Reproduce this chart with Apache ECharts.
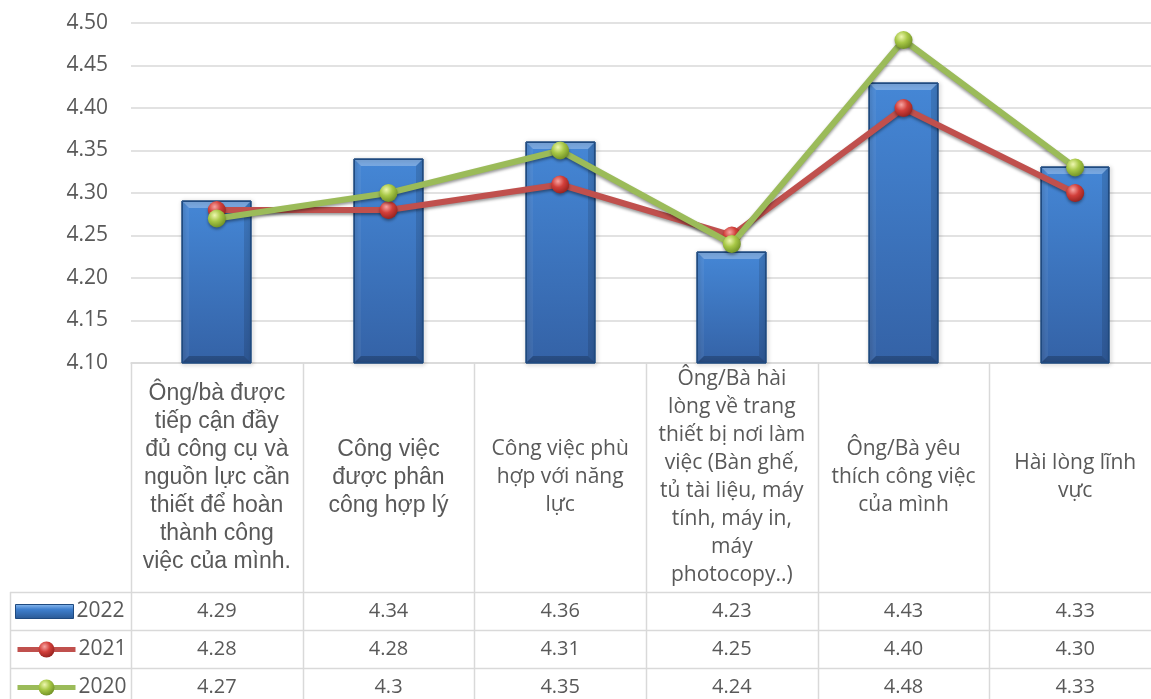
<!DOCTYPE html>
<html>
<head>
<meta charset="utf-8">
<script src="https://cdn.jsdelivr.net/npm/echarts@6/dist/echarts.min.js"></script>
<style>
  html, body { margin: 0; padding: 0; background: #ffffff; }
  #chart { width: 1151px; height: 699px; }
</style>
</head>
<body>
<div id="chart"></div>
<script>
// Survey criteria (category labels, wrapped as printed in the table header)
const categories = [
  'Ông/bà được\ntiếp cận đầy\nđủ công cụ và\nnguồn lực cần\nthiết để hoàn\nthành công\nviệc của mình.',
  'Công việc\nđược phân\ncông hợp lý',
  'Công việc phù\nhợp với năng\nlực',
  'Ông/Bà hài\nlòng về trang\nthiết bị nơi làm\nviệc (Bàn ghế,\ntủ tài liệu, máy\ntính, máy in,\nmáy\nphotocopy..)',
  'Ông/Bà yêu\nthích công việc\ncủa mình',
  'Hài lòng lĩnh\nvực'
];

// Average scores per year
const years = ['2022', '2021', '2020'];
const values2022 = [4.29, 4.34, 4.36, 4.23, 4.43, 4.33];
const values2021 = [4.28, 4.28, 4.31, 4.25, 4.40, 4.30];
const values2020 = [4.27, 4.3, 4.35, 4.24, 4.48, 4.33];

// Value axis range
const yMin = 4.10;
const yMax = 4.50;
const yStep = 0.05;

// ---- layout and style ----
const GRID_LEFT = 131, GRID_TOP = 23, GRID_H = 340, GRID_W = 1030;
const HEADER_H = 229, ROW_H = 38, TABLE_LEFT = 10;
const BORDER = '#d9d9d9';
const TEXT = '#595959';
const SANS = '"Open Sans", "Noto Sans", sans-serif';
const ARIAL = '"Liberation Sans", Arial, sans-serif';
const BAR_RATIO = 0.4;   // column width relative to the category band
const BEVEL = 7;

// first two header cells use the Arial face, the others Open Sans
const headerStyleKey = ['arial', 'arial', 'sans', 'sans', 'sans', 'sans'];

function fmt(v, raw) { return raw ? String(v) : v.toFixed(2); }
const tableRows = [
  values2022.map(v => fmt(v, false)),
  values2021.map(v => fmt(v, false)),
  values2020.map(v => fmt(v, true))
];

const chart = echarts.init(document.getElementById('chart'), null, { renderer: 'canvas' });

function sphere(light, mid, dark) {
  return {
    type: 'radial', x: 0.38, y: 0.32, r: 0.75,
    colorStops: [
      { offset: 0, color: light },
      { offset: 0.45, color: mid },
      { offset: 1, color: dark }
    ]
  };
}

const faceFill = {
  type: 'linear', x: 0, y: 0, x2: 0, y2: 1,
  colorStops: [
    { offset: 0, color: '#4587d6' },
    { offset: 1, color: '#3462a6' }
  ]
};
const legendBarFill = {
  type: 'linear', x: 0, y: 0, x2: 0, y2: 1,
  colorStops: [
    { offset: 0, color: '#8fbdf0' },
    { offset: 0.35, color: '#3f80cf' },
    { offset: 1, color: '#2a5893' }
  ]
};
const redBall = sphere('#f7a5a2', '#d23f3a', '#8e1f1c');
const greenBall = sphere('#eef7b0', '#a8c846', '#6a8a22');

// bevelled column drawn on the category / value scales
function renderBevelBar(params, api) {
  const top = api.coord([api.value(0), api.value(1)]);
  const base = api.coord([api.value(0), yMin]);
  const w = api.size([1, 0])[0] * BAR_RATIO;
  const x0 = Math.round(top[0] - w / 2), x1 = Math.round(top[0] + w / 2);
  const y0 = Math.round(top[1]), y1 = Math.round(base[1]);
  const b = Math.min(BEVEL, (y1 - y0) / 2);
  const poly = (pts, fill) => ({ type: 'polygon', shape: { points: pts }, style: { fill: fill }, silent: true });
  return {
    type: 'group',
    children: [
      {
        type: 'rect',
        shape: { x: x0, y: y0, width: x1 - x0, height: y1 - y0 },
        style: {
          fill: faceFill, stroke: '#1f4a80', lineWidth: 1,
          shadowColor: 'rgba(0,0,0,0.35)', shadowBlur: 4, shadowOffsetX: 1, shadowOffsetY: 1
        }
      },
      poly([[x0, y0], [x1, y0], [x1 - b, y0 + b], [x0 + b, y0 + b]], 'rgba(255,255,255,0.28)'),
      poly([[x0, y0], [x0 + b, y0 + b], [x0 + b, y1 - b], [x0, y1]], 'rgba(255,255,255,0.06)'),
      poly([[x1, y0], [x1, y1], [x1 - b, y1 - b], [x1 - b, y0 + b]], 'rgba(0,0,0,0.12)'),
      poly([[x0, y1], [x1, y1], [x1 - b, y1 - b], [x0 + b, y1 - b]], 'rgba(0,0,0,0.22)'),
      {
        type: 'rect', silent: true,
        shape: { x: x0 + 0.5, y: y0 + 0.5, width: x1 - x0 - 1, height: y1 - y0 - 1 },
        style: { fill: null, stroke: '#1f4a80', lineWidth: 1 }
      }
    ]
  };
}

const tableAxes = tableRows.map((row, i) => ({
  type: 'category',
  gridIndex: 0,
  position: 'bottom',
  offset: HEADER_H + ROW_H * i,
  data: row,
  axisLine: { show: false },
  axisTick: { show: false },
  splitLine: { show: false },
  axisLabel: {
    interval: 0, margin: ROW_H / 2, verticalAlign: 'middle',
    fontFamily: SANS, fontSize: 20, color: TEXT
  }
}));

// one legend entry per table row, at the left of that row
const legendIcons = [
  { icon: 'path://M0,0H58V14H0Z', itemStyle: { color: legendBarFill, borderColor: '#1f4a80', borderWidth: 1 } },
  {},
  {}
];
const rowLegends = years.map((name, i) => ({
  orient: 'horizontal',
  left: 15,
  top: GRID_TOP + GRID_H + HEADER_H + ROW_H * i + ROW_H / 2 - 10,
  padding: 0,
  itemWidth: 58,
  itemHeight: 20,
  itemGap: 4,
  lineStyle: { width: 5 },
  data: [Object.assign({ name: name }, legendIcons[i])],
  textStyle: { fontFamily: SANS, fontSize: 21, color: TEXT, padding: [0, 0, 0, -2] }
}));

const option = {
  animation: false,
  backgroundColor: '#ffffff',
  grid: {
    left: GRID_LEFT, top: GRID_TOP, width: GRID_W, height: GRID_H,
    containLabel: false, outerBoundsMode: 'none'
  },
  legend: rowLegends,
  xAxis: [
    {
      type: 'category',
      gridIndex: 0,
      data: categories,
      axisLine: { show: true, lineStyle: { color: BORDER, width: 1.5 } },
      axisTick: { show: false },
      splitLine: { show: false },
      axisLabel: {
        interval: 0, margin: HEADER_H / 2, verticalAlign: 'middle',
        align: 'center', color: TEXT,
        formatter: (value, idx) => {
          const key = headerStyleKey[idx];
          return value.split('\n').map(line => '{' + key + '|' + line + '}').join('\n');
        },
        rich: {
          arial: { fontFamily: ARIAL, fontSize: 23, lineHeight: 28, color: TEXT },
          sans: { fontFamily: SANS, fontSize: 21, lineHeight: 28, color: TEXT }
        }
      }
    },
    ...tableAxes
  ],
  yAxis: {
    type: 'value',
    min: yMin, max: yMax, interval: yStep,
    axisLine: { show: false },
    axisTick: { show: false },
    splitLine: { lineStyle: { color: BORDER, width: 1.5 } },
    axisLabel: {
      margin: 23, fontFamily: SANS, fontSize: 21, color: TEXT,
      formatter: v => v.toFixed(2)
    }
  },
  series: [
    {
      name: years[0],
      type: 'custom',
      xAxisIndex: 0,
      renderItem: renderBevelBar,
      encode: { x: 0, y: 1 },
      data: values2022.map((v, i) => [i, v]),
      itemStyle: { color: '#3c7bca' },
      z: 2
    },
    {
      name: years[1],
      type: 'line',
      xAxisIndex: 0,
      data: values2021,
      symbol: 'circle',
      symbolSize: 18,
      lineStyle: { color: '#c0504d', width: 6, shadowColor: 'rgba(0,0,0,0.4)', shadowBlur: 3, shadowOffsetY: 2 },
      itemStyle: { color: redBall, borderWidth: 0,
        shadowColor: 'rgba(0,0,0,0.35)', shadowBlur: 3, shadowOffsetY: 2 },
      z: 3
    },
    {
      name: years[2],
      type: 'line',
      xAxisIndex: 0,
      data: values2020,
      symbol: 'circle',
      symbolSize: 18,
      lineStyle: { color: '#9bbb59', width: 6, shadowColor: 'rgba(0,0,0,0.4)', shadowBlur: 3, shadowOffsetY: 2 },
      itemStyle: { color: greenBall, borderWidth: 0,
        shadowColor: 'rgba(0,0,0,0.35)', shadowBlur: 3, shadowOffsetY: 2 },
      z: 4
    }
  ]
};

chart.setOption(option);

// Data-table borders, placed from the category scale
const c0 = chart.convertToPixel({ xAxisIndex: 0 }, 0);
const c1 = chart.convertToPixel({ xAxisIndex: 0 }, 1);
const step = c1 - c0;
const tableTop = chart.convertToPixel({ yAxisIndex: 0 }, yMin);
const headerBottom = tableTop + HEADER_H;
const tableBottom = headerBottom + ROW_H * tableRows.length;
const firstEdge = c0 - step / 2;
const lastEdge = firstEdge + step * categories.length;

const lineStyle = { stroke: BORDER, lineWidth: 1.5 };
const graphics = [];
for (let k = 0; k <= categories.length; k++) {
  const x = Math.round(firstEdge + step * k) + 0.5;
  graphics.push({ type: 'line', silent: true, z: -1, shape: { x1: x, y1: tableTop, x2: x, y2: tableBottom }, style: lineStyle });
}
graphics.push({ type: 'line', silent: true, z: -1, shape: { x1: TABLE_LEFT + 0.5, y1: headerBottom, x2: TABLE_LEFT + 0.5, y2: tableBottom }, style: lineStyle });
for (let r = 0; r <= tableRows.length; r++) {
  const y = Math.round(headerBottom + ROW_H * r) + 0.5;
  graphics.push({ type: 'line', silent: true, z: -1, shape: { x1: TABLE_LEFT, y1: y, x2: lastEdge, y2: y }, style: lineStyle });
}
chart.setOption({ graphic: graphics });
</script>
</body>
</html>
